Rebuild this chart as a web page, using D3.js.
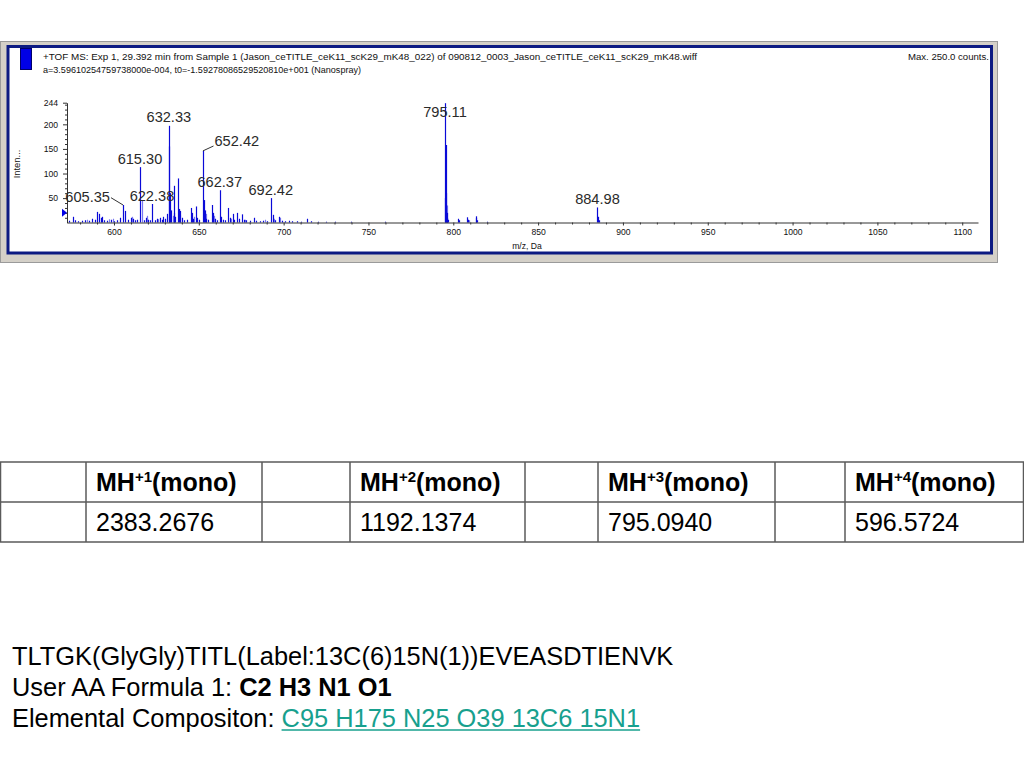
<!DOCTYPE html>
<html><head><meta charset="utf-8">
<script src="https://cdn.jsdelivr.net/npm/d3@7"></script>
<style>
html,body{margin:0;padding:0;background:#fff;}
svg{display:block;font-family:"Liberation Sans",Arial,Helvetica,sans-serif;}
</style></head><body>
<svg id="c" width="1024" height="768"></svg>
<script>
// ---------- data ----------
const headerLine1 = "+TOF MS: Exp 1, 29.392 min from Sample 1 (Jason_ceTITLE_ceK11_scK29_mK48_022) of 090812_0003_Jason_ceTITLE_ceK11_scK29_mK48.wiff";
const headerLine2 = "a=3.59610254759738000e-004, t0=-1.59278086529520810e+001 (Nanospray)";
const maxLabel = "Max. 250.0 counts.";
const yAxisTitle = "Inten...";
const xAxisTitle = "m/z, Da";
const xTickValues = [600, 650, 700, 750, 800, 850, 900, 950, 1000, 1050, 1100];
const yTickValues = [50, 100, 150, 200, 244];

// main (dark blue) sticks
const mzDark = [573.5,575.6,577,579,581,583,585,587,589,590.2,591.2,592.3,592.8,594,596,598,600,601.5,603.5,605.4,606.7,608,609.8,611,612.5,613.5,
  615.3,617.5,618.7,620,621,622.4,624,625.5,627.1,628.5,629.1,630.3,631.4,632.33,632.7,633.3,633.8,635.2,635.6,636.2,637.7,638.3,639,640,641.5,643,
  645.2,645.8,646.5,648.3,649,650,652.42,652.9,653.4,654.5,655.5,657.8,658.4,659.3,660.5,662.4,663,664.5,665.5,667.4,668.2,670.3,671,672.7,673.5,
  675.6,676.5,678,680,682.5,684,686,688,690,692.42,693.5,695,697.4,699,701,703,705,708,710,713.6,716,720,725,730,740,760,
  794.9,795.11,795.45,795.75,796.1,796.5,797,803,803.5,808.3,808.7,813.2,813.6,814.2,820,884.98,885.3,885.7];
const intDark = [4,12,5,3,4,5,4,8,6,22,18,10,12,5,4,6,3,5,10,36,24,6,10,8,5,6,
  113,5,10,6,5,38,5,8,10,6,12,8,18,197,155,60,25,75,20,12,90,28,24,10,5,6,
  30,20,8,33,10,6,146,46,25,8,6,36,20,8,5,66,12,6,5,30,10,18,6,20,8,
  17,6,5,4,10,4,3,4,3,50,16,5,12,4,3,4,3,3,2,8,3,2,2,2,2,2,
  50,243,158,60,20,10,6,8,5,11,6,13,10,5,2,31,12,5];
// lighter blue sticks
const mzLight = [584,597,599.5,610.5,616.3,619.5,626,634.5,638.8,647,654,659,669,677,689,694.5,698,796.3,809];
const intLight = [6,7,8,12,46,14,7,14,15,12,18,14,8,6,6,8,10,35,5];

// annotated peaks
const labelMz = [605.35, 615.30, 622.38, 632.33, 652.42, 662.37, 692.42, 795.11, 884.98];
const labelInt = [36, 113, 38, 197, 146, 66, 50, 243, 31];
const labelText = ["605.35", "615.30", "622.38", "632.33", "652.42", "662.37", "692.42", "795.11", "884.98"];

// table
const chargeStates = ["+1", "+2", "+3", "+4"];
const monoMasses = ["2383.2676", "1192.1374", "795.0940", "596.5724"];

// text block
const sequenceText = "TLTGK(GlyGly)TITL(Label:13C(6)15N(1))EVEASDTIENVK";
const formulaLabel = "User AA Formula 1: ";
const formulaValue = "C2 H3 N1 O1";
const compositionLabel = "Elemental Compositon: ";
const compositionValue = "C95 H175 N25 O39 13C6 15N1";

// ---------- drawing ----------
const svg = d3.select("#c");
const DARK = "#0a0ad8", LIGHT = "#7a7af2";

// window frame
svg.append("rect").attr("x", 0.5).attr("y", 41.5).attr("width", 997).attr("height", 221)
  .attr("fill", "#d4d0c8").attr("stroke", "#9a9a9a");
svg.append("rect").attr("x", 8).attr("y", 46.5).attr("width", 983.5).attr("height", 206.5)
  .attr("fill", "#fff").attr("stroke", "#0c1a82").attr("stroke-width", 3);
// icon
svg.append("rect").attr("x", 20.5).attr("y", 48.5).attr("width", 11).attr("height", 21)
  .attr("fill", "#0000e6").attr("stroke", "#00006a");

// header text
svg.append("text").attr("x", 43).attr("y", 59.5).attr("font-size", 9.6).attr("fill", "#111")
  .attr("textLength", 654).attr("lengthAdjust", "spacingAndGlyphs").text(headerLine1);
svg.append("text").attr("x", 43).attr("y", 72.5).attr("font-size", 9.6).attr("fill", "#111")
  .attr("textLength", 318).attr("lengthAdjust", "spacingAndGlyphs").text(headerLine2);
svg.append("text").attr("x", 989).attr("y", 59.5).attr("font-size", 9.6).attr("fill", "#111")
  .attr("text-anchor", "end").text(maxLabel);

// scales
const x = d3.scaleLinear().domain([572.3, 1109.3]).range([67, 978]);
const y = d3.scaleLinear().domain([0, 244]).range([222.7, 102.7]);
const base = 222.5;

// sticks
function sticks(mz, val, color) {
  svg.append("g").selectAll("line").data(mz.map((m, i) => [m, val[i]])).join("line")
    .attr("x1", d => Math.round(x(d[0])) + 0.5).attr("x2", d => Math.round(x(d[0])) + 0.5)
    .attr("y1", base).attr("y2", d => y(d[1]))
    .attr("stroke", color).attr("stroke-width", 1.2);
}
sticks(mzLight, intLight, LIGHT);
sticks(mzDark, intDark, DARK);

// axes
svg.append("g").attr("transform", `translate(0,${base})`)
  .call(d3.axisBottom(x).tickValues(xTickValues).tickFormat(d3.format("d")).tickSize(3).tickPadding(3).tickSizeOuter(0));
const xMinor = d3.range(580, 1110, 10).filter(v => v % 50 !== 0);
svg.append("g").attr("transform", `translate(0,${base})`)
  .call(d3.axisBottom(x).tickValues(xMinor).tickSize(2).tickFormat("").tickSizeOuter(0))
  .select(".domain").remove();
svg.append("g").attr("transform", "translate(67,0)")
  .call(d3.axisLeft(y).tickValues(yTickValues).tickFormat(d3.format("d")).tickSize(4).tickPadding(5).tickSizeOuter(0));
const yMinor = d3.range(10, 244, 10).filter(v => v % 50 !== 0);
svg.append("g").attr("transform", "translate(67,0)")
  .call(d3.axisLeft(y).tickValues(yMinor).tickSize(2).tickFormat("").tickSizeOuter(0))
  .select(".domain").remove();
svg.selectAll(".tick text").attr("font-size", 8.6).attr("fill", "#111").attr("font-family", "'Liberation Sans',Arial,sans-serif");
svg.selectAll(".domain, .tick line").attr("stroke", "#333");

// threshold marker
svg.append("path").attr("d", `M62,${y(20) - 4} L67,${y(20)} L62,${y(20) + 4} Z`).attr("fill", "#0000e6");

// axis titles
svg.append("text").attr("transform", "translate(20,164) rotate(-90)").attr("text-anchor", "middle")
  .attr("font-size", 9.4).attr("fill", "#111").text(yAxisTitle);
svg.append("text").attr("x", 527).attr("y", 249).attr("text-anchor", "middle")
  .attr("font-size", 8.6).attr("fill", "#111").text(xAxisTitle);

// peak labels
const leaderOffsets = { "605.35": [-35.4, -3.3], "652.42": [33.9, -4.9] };
labelMz.forEach((m, i) => {
  const px = x(m), py = y(labelInt[i]);
  const off = leaderOffsets[labelText[i]];
  let lx = px, ly = Math.max(py - 3.5, 116.7);
  if (off) { lx = px + off[0]; ly = py + off[1]; }
  const t = svg.append("text").attr("x", lx).attr("y", ly).attr("text-anchor", "middle")
    .attr("font-size", 14.6).attr("fill", "#2a2a2a").text(labelText[i]);
  if (off) {
    const w = t.node().getComputedTextLength();
    const sx = off[0] < 0 ? lx + w / 2 + 1 : lx - w / 2 - 1;
    const sy = off[0] < 0 ? ly - 4 : ly;
    svg.append("path").attr("d", `M${sx},${sy} L${px},${py}`).attr("stroke", "#333").attr("fill", "none");
  }
});

// ---------- table ----------
const colEdges = [0.5, 86, 262, 350, 525, 598, 775, 845, 1023.5];
const rowEdges = [462, 502, 542];
const tg = svg.append("g");
rowEdges.forEach(r => tg.append("line").attr("x1", 0).attr("x2", 1024).attr("y1", r).attr("y2", r)
  .attr("stroke", "#5a5a5a").attr("stroke-width", 1.5));
colEdges.forEach(c => tg.append("line").attr("x1", c).attr("x2", c).attr("y1", rowEdges[0]).attr("y2", rowEdges[2])
  .attr("stroke", "#5a5a5a").attr("stroke-width", 1.5));
chargeStates.forEach((c, i) => {
  const cx = colEdges[2 * i + 1] + 10;
  const h = tg.append("text").attr("x", cx).attr("y", 491).attr("font-size", 25).attr("font-weight", "bold").attr("fill", "#000");
  h.append("tspan").text("MH");
  h.append("tspan").attr("font-size", 15).attr("dy", -9).text(c);
  h.append("tspan").attr("dy", 9).text("(mono)");
  tg.append("text").attr("x", cx).attr("y", 531).attr("font-size", 25).attr("fill", "#000").text(monoMasses[i]);
});

// ---------- text block ----------
svg.append("text").attr("x", 12).attr("y", 665).attr("font-size", 25.4).attr("fill", "#000").text(sequenceText);
const l2 = svg.append("text").attr("x", 12).attr("y", 696).attr("font-size", 25.4).attr("fill", "#000");
l2.append("tspan").text(formulaLabel);
l2.append("tspan").attr("font-weight", "bold").text(formulaValue);
const l3a = svg.append("text").attr("x", 12).attr("y", 727).attr("font-size", 25.4).attr("fill", "#000")
  .attr("xml:space", "preserve").text(compositionLabel);
const w3 = l3a.node().getComputedTextLength();
const l3b = svg.append("text").attr("x", 12 + w3).attr("y", 727).attr("font-size", 25.4).attr("fill", "#17a08e").text(compositionValue);
const w3b = l3b.node().getComputedTextLength();
svg.append("line").attr("x1", 12 + w3).attr("x2", 12 + w3 + w3b).attr("y1", 730).attr("y2", 730)
  .attr("stroke", "#17a08e").attr("stroke-width", 1.6);
</script>
</body></html>
